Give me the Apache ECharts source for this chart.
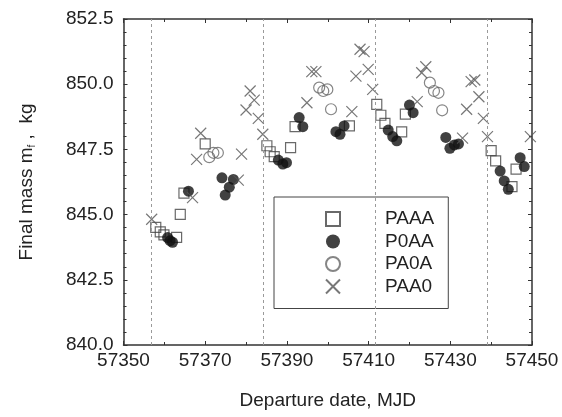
<!DOCTYPE html>
<html><head><meta charset="utf-8">
<script src="https://cdn.jsdelivr.net/npm/echarts@6/dist/echarts.min.js"></script>
<style>html,body{margin:0;padding:0;background:#fff}#c{width:562px;height:417px}</style>
</head><body><div id="c"></div>
<script>
// Departure date (MJD) and final mass (kg) per case
const PAAA_x = [57357.9,57359.0,57359.9,57363.0,57363.9,57364.8,57370.0,57385.1,57385.9,57386.9,57390.9,57392.0,57405.3,57412.0,57413.0,57414.0,57418.1,57419.0,57440.0,57441.1,57445.1,57446.1];
const PAAA_y = [844.51,844.34,844.22,844.13,845.01,845.82,847.71,847.64,847.41,847.22,847.57,848.37,848.40,849.23,848.81,848.50,848.17,848.85,847.45,847.06,846.07,846.74];

const P0AA_x = [57360.8,57361.4,57362.0,57365.9,57374.1,57374.9,57375.9,57376.9,57387.9,57389.0,57389.9,57393.0,57393.9,57402.0,57403.0,57404.0,57414.8,57415.9,57416.9,57420.0,57420.9,57428.9,57429.9,57431.0,57432.0,57442.2,57443.2,57444.2,57447.1,57448.1];
const P0AA_y = [844.12,844.00,843.94,845.90,846.41,845.75,846.05,846.35,847.09,846.94,846.99,848.72,848.37,848.18,848.08,848.40,848.24,847.99,847.83,849.20,848.91,847.96,847.54,847.67,847.71,846.67,846.29,845.97,847.18,846.84];

const PA0A_x = [57371.0,57372.0,57373.1,57397.9,57398.9,57399.9,57400.8,57425.0,57426.0,57427.1,57428.0];
const PA0A_y = [847.20,847.37,847.37,849.87,849.74,849.80,849.04,850.06,849.74,849.67,849.00];

const PAA0_x = [57356.9,57366.9,57367.9,57368.9,57378.1,57378.9,57380.0,57381.0,57382.0,57383.0,57384.1,57394.9,57396.1,57397.1,57405.9,57406.9,57407.9,57408.9,57409.9,57411.0,57421.9,57423.0,57424.0,57433.0,57434.0,57435.1,57436.0,57437.0,57438.1,57439.1,57449.6];
const PAA0_y = [844.82,845.65,847.12,848.12,846.32,847.32,849.01,849.74,849.39,848.69,848.08,849.29,850.48,850.48,848.95,850.31,851.34,851.25,850.57,849.80,849.33,850.44,850.67,847.93,849.04,850.10,850.16,849.52,848.69,847.99,847.99];

// dashed reference dates
const refDates = [57356.9, 57384.2, 57411.6, 57439.0];

const xMin = 57350, xMax = 57450, xStep = 20;
const yMin = 840, yMax = 852.5, yStep = 2.5;

const zip = (a, b) => a.map((v, i) => [v, b[i]]);
const FONT = '"Liberation Sans", Arial, sans-serif';
const TXT = '#222';
const AX = '#333';
const crossPath = 'path://M0,0L10,10M10,0L0,10';

function axisCommon(showLabel) {
  return {
    axisLine: {show: true, onZero: false, lineStyle: {color: AX, width: 1.5}},
    axisTick: {show: true, inside: true, length: 4, lineStyle: {color: AX, width: 1}},
    minorTick: {show: true, length: 2, lineStyle: {color: AX, width: 1}},
    splitLine: {show: false},
    axisLabel: {show: showLabel, color: TXT, fontSize: 19, fontFamily: FONT}
  };
}

const chart = echarts.init(document.getElementById('c'), null, {renderer: 'canvas'});
chart.setOption({
  animation: false,
  backgroundColor: '#fff',
  grid: {left: 123.5, right: 30, top: 19, bottom: 72},
  xAxis: [
    Object.assign(axisCommon(true), {
      type: 'value', min: xMin, max: xMax, interval: xStep, position: 'bottom',
      minorTick: {show: true, splitNumber: 2, length: 3, lineStyle: {color: AX}},
      axisLabel: {color: TXT, fontSize: 19, fontFamily: FONT, margin: 6, formatter: v => String(v)},
      name: 'Departure date, MJD', nameLocation: 'middle', nameGap: 46,
      nameTextStyle: {color: TXT, fontSize: 19, fontFamily: FONT}
    }),
    Object.assign(axisCommon(false), {
      type: 'value', min: xMin, max: xMax, interval: xStep, position: 'top',
      minorTick: {show: true, splitNumber: 2, length: 3, lineStyle: {color: AX}}
    })
  ],
  yAxis: [
    Object.assign(axisCommon(true), {
      type: 'value', min: yMin, max: yMax, interval: yStep, position: 'left',
      minorTick: {show: true, splitNumber: 5, length: 3, lineStyle: {color: AX}},
      axisLabel: {color: TXT, fontSize: 19, fontFamily: FONT, margin: 10, formatter: v => v.toFixed(1)},
      name: 'Final mass m{s|f} ,  kg', nameLocation: 'middle', nameGap: 86,
      nameTextStyle: {color: TXT, fontSize: 19, fontFamily: FONT,
        rich: {s: {fontSize: 10, fontFamily: FONT, color: TXT, padding: [12, 0, 0, 0]}}}
    }),
    Object.assign(axisCommon(false), {
      type: 'value', min: yMin, max: yMax, interval: yStep, position: 'right',
      minorTick: {show: true, splitNumber: 5, length: 3, lineStyle: {color: AX}}
    })
  ],
  legend: {
    orient: 'vertical', left: 274, top: 197,
    padding: [12, 14, 12, 51],
    itemWidth: 14, itemHeight: 14, itemGap: 2.5,
    borderColor: '#444', borderWidth: 1, backgroundColor: '#fff',
    textStyle: {color: TXT, fontSize: 19, fontFamily: FONT, lineHeight: 20, padding: [0, 0, 0, 40]},
    data: ['PAAA', 'P0AA', 'PA0A', 'PAA0']
  },
  series: [
    {
      name: 'PAAA', type: 'scatter', data: zip(PAAA_x, PAAA_y),
      symbol: 'rect', symbolSize: 10,
      itemStyle: {color: 'rgba(255,255,255,0)', borderColor: '#444', borderWidth: 1.2},
      markLine: {
        silent: true, symbol: ['none', 'none'], label: {show: false},
        lineStyle: {color: '#9a9a9a', type: [3, 3], width: 1},
        data: refDates.map(v => ({xAxis: v}))
      }
    },
    {
      name: 'P0AA', type: 'scatter', data: zip(P0AA_x, P0AA_y),
      symbol: 'circle', symbolSize: 11,
      itemStyle: {color: '#111', borderColor: '#111', borderWidth: 0}
    },
    {
      name: 'PA0A', type: 'scatter', data: zip(PA0A_x, PA0A_y),
      symbol: 'circle', symbolSize: 11,
      itemStyle: {color: 'rgba(255,255,255,0)', borderColor: '#666', borderWidth: 1.2}
    },
    {
      name: 'PAA0', type: 'scatter', data: zip(PAA0_x, PAA0_y),
      symbol: crossPath, symbolSize: 11,
      itemStyle: {color: 'rgba(255,255,255,0)', borderColor: '#555', borderWidth: 1.2}
    }
  ]
});
</script></body></html>
